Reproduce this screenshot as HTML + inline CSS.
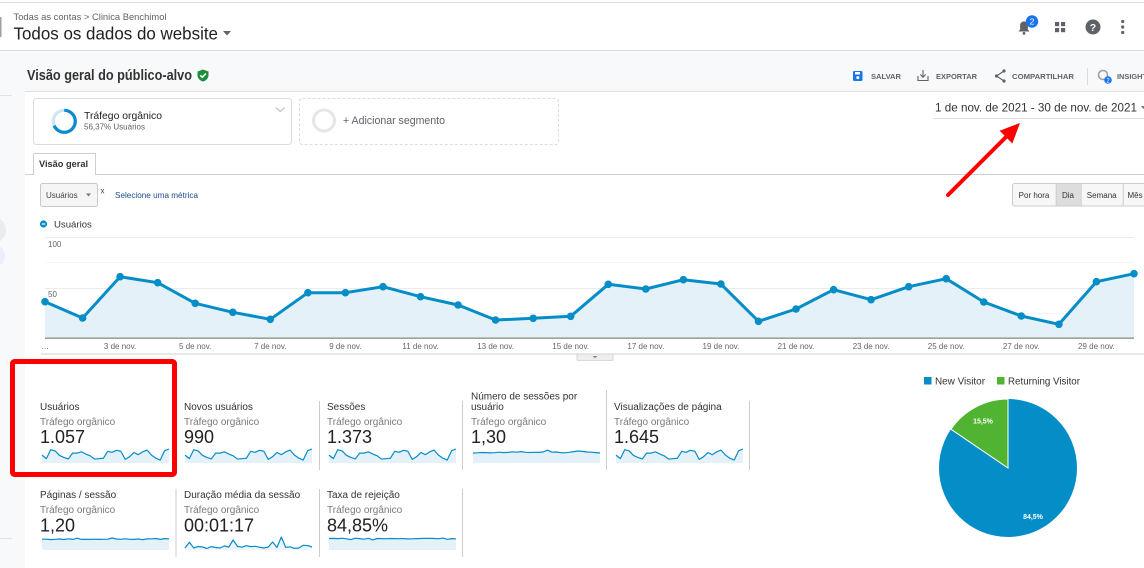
<!DOCTYPE html>
<html><head><meta charset="utf-8">
<style>
html,body{margin:0;padding:0;background:#fff;}
body{width:1144px;height:568px;overflow:hidden;}
svg{display:block;}
text{font-family:"Liberation Sans",Arial,sans-serif;}
</style></head>
<body>
<svg width="1144" height="568" viewBox="0 0 1144 568" xmlns="http://www.w3.org/2000/svg">
<defs>
  <g id="spA">
    <polygon fill="#e4f1f8" points="0,6.1 4.38,9.65 8.76,0.65 13.14,1.96 17.52,6.44 21.9,8.4 26.27,9.93 30.65,4.14 35.03,4.14 39.41,2.83 43.79,5.01 48.17,6.81 52.55,10.08 56.93,9.71 61.31,9.28 65.69,2.31 70.07,3.33 74.45,1.31 78.83,2.24 83.21,10.36 87.59,7.69 91.97,3.48 96.34,5.66 100.72,2.83 105.1,1.09 109.48,6.16 113.86,9.21 118.24,11.02 122.62,1.74 127,0 127,14 0,14"/>
    <polyline fill="none" stroke="#058dc7" stroke-width="1.2" stroke-linejoin="round" points="0,6.1 4.38,9.65 8.76,0.65 13.14,1.96 17.52,6.44 21.9,8.4 26.27,9.93 30.65,4.14 35.03,4.14 39.41,2.83 43.79,5.01 48.17,6.81 52.55,10.08 56.93,9.71 61.31,9.28 65.69,2.31 70.07,3.33 74.45,1.31 78.83,2.24 83.21,10.36 87.59,7.69 91.97,3.48 96.34,5.66 100.72,2.83 105.1,1.09 109.48,6.16 113.86,9.21 118.24,11.02 122.62,1.74 127,0"/>
  </g>
  <g id="spF1">
    <polygon fill="#e4f1f8" points="0,4 4.38,3.8 8.76,3.5 13.14,3.6 17.52,3.9 21.9,3.7 26.27,3.2 30.65,3.6 35.03,3.4 39.41,2.8 43.79,3.2 48.17,2.6 52.55,3.3 56.93,3.5 61.31,3.3 65.69,3.4 70.07,3 74.45,1.2 78.83,3.2 83.21,3 87.59,3.6 91.97,3.8 96.34,3.3 100.72,2.6 105.1,2 109.48,2.4 113.86,3 118.24,3.2 122.62,3.6 127,4 127,14 0,14"/>
    <polyline fill="none" stroke="#058dc7" stroke-width="1.2" stroke-linejoin="round" points="0,4 4.38,3.8 8.76,3.5 13.14,3.6 17.52,3.9 21.9,3.7 26.27,3.2 30.65,3.6 35.03,3.4 39.41,2.8 43.79,3.2 48.17,2.6 52.55,3.3 56.93,3.5 61.31,3.3 65.69,3.4 70.07,3 74.45,1.2 78.83,3.2 83.21,3 87.59,3.6 91.97,3.8 96.34,3.3 100.72,2.6 105.1,2 109.48,2.4 113.86,3 118.24,3.2 122.62,3.6 127,4"/>
  </g>
  <g id="spF2">
    <polygon fill="#e4f1f8" points="0,2.2 4.38,2.2 8.76,2.6 13.14,2.3 17.52,2 21.9,2.5 26.27,1.8 30.65,2.4 35.03,1.2 39.41,2.4 43.79,2.3 48.17,2.4 52.55,2.2 56.93,2.4 61.31,2.3 65.69,2.2 70.07,1 74.45,2 78.83,2.3 83.21,1.8 87.59,2.3 91.97,2.4 96.34,2 100.72,2.7 105.1,1.9 109.48,1.8 113.86,1.5 118.24,2.4 122.62,1.6 127,1.8 127,13 0,13"/>
    <polyline fill="none" stroke="#058dc7" stroke-width="1.2" stroke-linejoin="round" points="0,2.2 4.38,2.2 8.76,2.6 13.14,2.3 17.52,2 21.9,2.5 26.27,1.8 30.65,2.4 35.03,1.2 39.41,2.4 43.79,2.3 48.17,2.4 52.55,2.2 56.93,2.4 61.31,2.3 65.69,2.2 70.07,1 74.45,2 78.83,2.3 83.21,1.8 87.59,2.3 91.97,2.4 96.34,2 100.72,2.7 105.1,1.9 109.48,1.8 113.86,1.5 118.24,2.4 122.62,1.6 127,1.8"/>
  </g>
  <g id="spF3">
    <polygon fill="#e4f1f8" points="0,1.5 4.38,1.4 8.76,1.6 13.14,1.3 17.52,1.8 21.9,2.6 26.27,1.2 30.65,1.6 35.03,2.2 39.41,1.3 43.79,2.9 48.17,1.5 52.55,1.6 56.93,1.8 61.31,1.5 65.69,1.6 70.07,1.7 74.45,1.6 78.83,1.9 83.21,1.8 87.59,1.6 91.97,1.5 96.34,1.4 100.72,1.3 105.1,1.5 109.48,1.7 113.86,1.1 118.24,2.3 122.62,1.6 127,1.8 127,13 0,13"/>
    <polyline fill="none" stroke="#058dc7" stroke-width="1.2" stroke-linejoin="round" points="0,1.5 4.38,1.4 8.76,1.6 13.14,1.3 17.52,1.8 21.9,2.6 26.27,1.2 30.65,1.6 35.03,2.2 39.41,1.3 43.79,2.9 48.17,1.5 52.55,1.6 56.93,1.8 61.31,1.5 65.69,1.6 70.07,1.7 74.45,1.6 78.83,1.9 83.21,1.8 87.59,1.6 91.97,1.5 96.34,1.4 100.72,1.3 105.1,1.5 109.48,1.7 113.86,1.1 118.24,2.3 122.62,1.6 127,1.8"/>
  </g>
  <g id="spD">
    <polygon fill="#eef6fb" points="0,11 4.38,5.3 8.76,11 13.14,9.5 17.52,10 21.9,11.5 26.27,9.6 30.65,10.5 35.03,11 39.41,9 43.79,10 48.17,3 52.55,9.5 56.93,10.2 61.31,8.7 65.69,9.6 70.07,9.3 74.45,10.2 78.83,11 83.21,10 87.59,5 91.97,10.5 96.34,0 100.72,10.4 105.1,9.8 109.48,11.4 113.86,11 118.24,8.3 122.62,8.6 127,10 127,13 0,13"/>
    <polyline fill="none" stroke="#058dc7" stroke-width="1.2" stroke-linejoin="round" points="0,11 4.38,5.3 8.76,11 13.14,9.5 17.52,10 21.9,11.5 26.27,9.6 30.65,10.5 35.03,11 39.41,9 43.79,10 48.17,3 52.55,9.5 56.93,10.2 61.31,8.7 65.69,9.6 70.07,9.3 74.45,10.2 78.83,11 83.21,10 87.59,5 91.97,10.5 96.34,0 100.72,10.4 105.1,9.8 109.48,11.4 113.86,11 118.24,8.3 122.62,8.6 127,10"/>
  </g>
</defs>

<!-- backgrounds -->
<rect x="0" y="0" width="1144" height="568" fill="#fff"/>
<rect x="0" y="2" width="1144" height="1" fill="#dadce0"/>
<rect x="0" y="17" width="1.5" height="20" fill="#9aa0a6"/>
<rect x="0" y="51" width="1144" height="517" fill="#f8f9fa"/>
<rect x="0" y="50" width="1144" height="1" fill="#dadce0"/>
<rect x="25" y="92" width="1119" height="476" fill="#fff"/>
<rect x="25" y="91" width="1119" height="1" fill="#e0e0e0"/>
<rect x="0" y="95" width="12" height="1" fill="#e3e3e3"/>
<rect x="0" y="538" width="12" height="1" fill="#e3e3e3"/>
<circle cx="-7" cy="230" r="13" fill="#ececec"/>
<circle cx="-6" cy="256" r="11" fill="#e8f0fe"/>

<!-- header -->
<text x="13.5" y="20" font-size="9" fill="#5f6368" textLength="153" lengthAdjust="spacingAndGlyphs">Todas as contas &gt; Clinica Benchimol</text>
<text x="13.5" y="39.5" font-size="17.5" fill="#202124" textLength="204.5" lengthAdjust="spacingAndGlyphs">Todos os dados do website</text>
<polygon points="223,31 231,31 227,35.5" fill="#5f6368"/>

<!-- header icons -->
<path d="M1018.5,31.5 h11 l-1.6,-2 v-4.2 a3.9,3.9 0 0 0 -7.8,0 v4.2 z" fill="#5f6368"/>
<circle cx="1024" cy="33.3" r="1.4" fill="#5f6368"/>
<circle cx="1032" cy="21.5" r="6.2" fill="#1a73e8"/>
<text x="1032" y="24.5" font-size="8.5" fill="#fff" text-anchor="middle">2</text>
<rect x="1055" y="22" width="4.2" height="4.2" fill="#5f6368"/>
<rect x="1061" y="22" width="4.2" height="4.2" fill="#5f6368"/>
<rect x="1055" y="28" width="4.2" height="4.2" fill="#5f6368"/>
<rect x="1061" y="28" width="4.2" height="4.2" fill="#5f6368"/>
<circle cx="1093" cy="27" r="7.5" fill="#5f6368"/>
<text x="1093" y="30.8" font-size="10.5" font-weight="bold" fill="#fff" text-anchor="middle">?</text>
<circle cx="1122.7" cy="21.5" r="1.6" fill="#5f6368"/>
<circle cx="1122.7" cy="27" r="1.6" fill="#5f6368"/>
<circle cx="1122.7" cy="32.5" r="1.6" fill="#5f6368"/>

<!-- title band -->
<text x="27" y="80" font-size="14.5" font-weight="bold" fill="#333" textLength="165" lengthAdjust="spacingAndGlyphs">Visão geral do público-alvo</text>
<path d="M203,69.5 l5.5,2 v3.8 c0,3 -2.3,5.3 -5.5,6.3 c-3.2,-1 -5.5,-3.3 -5.5,-6.3 v-3.8 z" fill="#1e8e3e"/>
<path d="M200.3,75.3 l2,2 l3.6,-3.8" fill="none" stroke="#fff" stroke-width="1.5"/>

<!-- toolbar -->
<rect x="853" y="71" width="9.5" height="10" rx="1.2" fill="#1a73e8"/>
<rect x="855" y="72" width="5" height="2.5" fill="#fff"/>
<circle cx="857.8" cy="77.6" r="1.5" fill="#fff"/>
<text x="871" y="79" font-size="7.4" font-weight="bold" fill="#5f6368" textLength="30" lengthAdjust="spacingAndGlyphs">SALVAR</text>
<path d="M918,76 v4.5 h10 v-4.5" fill="none" stroke="#5f6368" stroke-width="1.1"/>
<path d="M923,70 v7 M920.3,74.5 l2.7,2.7 l2.7,-2.7" fill="none" stroke="#5f6368" stroke-width="1.1"/>
<text x="936" y="79" font-size="7.4" font-weight="bold" fill="#5f6368" textLength="41" lengthAdjust="spacingAndGlyphs">EXPORTAR</text>
<path d="M1004,71 L996.5,76 L1004,81" fill="none" stroke="#5f6368" stroke-width="1.1"/>
<circle cx="1004" cy="71" r="1.6" fill="#5f6368"/>
<circle cx="996.5" cy="76" r="1.6" fill="#5f6368"/>
<circle cx="1004" cy="81" r="1.6" fill="#5f6368"/>
<text x="1012" y="79" font-size="7.4" font-weight="bold" fill="#5f6368" textLength="62" lengthAdjust="spacingAndGlyphs">COMPARTILHAR</text>
<rect x="1087" y="68" width="1" height="17" fill="#dadce0"/>
<circle cx="1103" cy="75" r="4.5" fill="none" stroke="#9aa0a6" stroke-width="1.6"/>
<circle cx="1108" cy="80" r="3.8" fill="#1a73e8"/>
<text x="1108" y="82.3" font-size="6" fill="#fff" text-anchor="middle">2</text>
<text x="1117" y="79" font-size="7.4" font-weight="bold" fill="#5f6368">INSIGHTS</text>

<!-- date -->
<text x="935" y="111.3" font-size="12" fill="#333" textLength="202" lengthAdjust="spacingAndGlyphs">1 de nov. de 2021 - 30 de nov. de 2021</text>
<polygon points="1141,106 1146,106 1143.5,109" fill="#777"/>
<rect x="933" y="118" width="211" height="1" fill="#e0e0e0"/>

<!-- segment boxes -->
<rect x="33.5" y="98.5" width="258" height="46" rx="3" fill="#fff" stroke="#dadce0"/>
<circle cx="64.3" cy="121.3" r="11" fill="none" stroke="#cfe6f3" stroke-width="3.2"/>
<path d="M64.3,110.3 A11,11 0 1 1 54.15,125.6" fill="none" stroke="#0a8ad0" stroke-width="3.2"/>
<text x="84" y="119" font-size="10.5" fill="#212121" textLength="78" lengthAdjust="spacingAndGlyphs">Tráfego orgânico</text>
<text x="84" y="129.3" font-size="8" fill="#5f6368" textLength="61" lengthAdjust="spacingAndGlyphs">56,37% Usuários</text>
<path d="M276,107.5 l4.3,4 l4.3,-4" fill="none" stroke="#c4c4c4" stroke-width="1.2"/>
<rect x="299.5" y="98.5" width="259" height="46" rx="3" fill="#fff" stroke="#dadce0" stroke-dasharray="3,2"/>
<circle cx="324" cy="120.5" r="10.5" fill="none" stroke="#e6e6e6" stroke-width="3"/>
<text x="343" y="123.8" font-size="11" fill="#5f6368" textLength="102" lengthAdjust="spacingAndGlyphs">+ Adicionar segmento</text>

<!-- tab -->
<rect x="25" y="174" width="1119" height="1" fill="#cfcfcf"/>
<path d="M33.5,175 V153.5 H95.5 V175" fill="#fff" stroke="#cfcfcf"/>
<text x="39" y="167" font-size="9.2" font-weight="bold" fill="#333" textLength="49" lengthAdjust="spacingAndGlyphs">Visão geral</text>

<!-- metric selector -->
<rect x="40.5" y="183.5" width="57" height="23" rx="2" fill="#f5f5f5" stroke="#c8c8c8"/>
<text x="46" y="198" font-size="8" fill="#444">Usuários</text>
<polygon points="86,193.5 91,193.5 88.5,196.5" fill="#777"/>
<text x="100.5" y="193.5" font-size="8" fill="#444">x</text>
<text x="115" y="198" font-size="8" fill="#1a4a8e" textLength="83" lengthAdjust="spacingAndGlyphs">Selecione uma métrica</text>

<!-- period buttons -->
<rect x="1012.5" y="183.5" width="140" height="22.5" rx="2" fill="#f7f7f7" stroke="#cccccc"/>
<rect x="1056" y="184" width="24.5" height="21.5" fill="#dddddd"/>
<rect x="1055.7" y="183.5" width="1" height="22.5" fill="#cccccc"/>
<rect x="1080.7" y="183.5" width="1" height="22.5" fill="#cccccc"/>
<rect x="1122.7" y="183.5" width="1" height="22.5" fill="#cccccc"/>
<text x="1034" y="198" font-size="8" fill="#333" text-anchor="middle">Por hora</text>
<text x="1068" y="198" font-size="8" fill="#333" text-anchor="middle">Dia</text>
<text x="1101.7" y="198" font-size="8" fill="#333" text-anchor="middle">Semana</text>
<text x="1127.5" y="198" font-size="8" fill="#333">Mês</text>

<!-- chart legend -->
<circle cx="43.5" cy="224" r="3.6" fill="#058dc7"/>
<rect x="41.8" y="223.4" width="3.4" height="1.2" fill="#fff"/>
<text x="54" y="227.5" font-size="9.6" fill="#333">Usuários</text>

<!-- grid -->
<rect x="45" y="237" width="1089" height="1" fill="#ececec"/>
<rect x="45" y="262" width="1089" height="1" fill="#f6f6f6"/>
<rect x="45" y="288" width="1089" height="1" fill="#ececec"/>
<rect x="45" y="313" width="1089" height="1" fill="#f6f6f6"/>
<text x="48" y="247" font-size="8" fill="#666">100</text>
<text x="48" y="297" font-size="8" fill="#666">50</text>

<!-- area + line -->
<polygon fill="#e4f1f8" points="45,338 45,301.7 82.6,318 120.1,276.7 157.7,282.7 195.2,303.3 232.8,312.3 270.3,319.3 307.9,292.7 345.4,292.7 383,286.7 420.5,296.7 458.1,305 495.6,320 533.2,318.3 570.7,316.3 608.3,284.3 645.8,289 683.4,279.7 720.9,284 758.5,321.3 796,309 833.6,289.7 871.1,299.7 908.7,286.7 946.2,278.7 983.8,302 1021.3,316 1058.9,324.3 1096.4,281.7 1134,273.7 1134,338"/>
<polyline fill="none" stroke="#058dc7" stroke-width="3" stroke-linejoin="round" points="45,301.7 82.6,318 120.1,276.7 157.7,282.7 195.2,303.3 232.8,312.3 270.3,319.3 307.9,292.7 345.4,292.7 383,286.7 420.5,296.7 458.1,305 495.6,320 533.2,318.3 570.7,316.3 608.3,284.3 645.8,289 683.4,279.7 720.9,284 758.5,321.3 796,309 833.6,289.7 871.1,299.7 908.7,286.7 946.2,278.7 983.8,302 1021.3,316 1058.9,324.3 1096.4,281.7 1134,273.7"/>
<g fill="#058dc7">
<circle cx="45" cy="301.7" r="3.8"/><circle cx="82.6" cy="318" r="3.8"/><circle cx="120.1" cy="276.7" r="3.8"/><circle cx="157.7" cy="282.7" r="3.8"/><circle cx="195.2" cy="303.3" r="3.8"/><circle cx="232.8" cy="312.3" r="3.8"/><circle cx="270.3" cy="319.3" r="3.8"/><circle cx="307.9" cy="292.7" r="3.8"/><circle cx="345.4" cy="292.7" r="3.8"/><circle cx="383" cy="286.7" r="3.8"/><circle cx="420.5" cy="296.7" r="3.8"/><circle cx="458.1" cy="305" r="3.8"/><circle cx="495.6" cy="320" r="3.8"/><circle cx="533.2" cy="318.3" r="3.8"/><circle cx="570.7" cy="316.3" r="3.8"/><circle cx="608.3" cy="284.3" r="3.8"/><circle cx="645.8" cy="289" r="3.8"/><circle cx="683.4" cy="279.7" r="3.8"/><circle cx="720.9" cy="284" r="3.8"/><circle cx="758.5" cy="321.3" r="3.8"/><circle cx="796" cy="309" r="3.8"/><circle cx="833.6" cy="289.7" r="3.8"/><circle cx="871.1" cy="299.7" r="3.8"/><circle cx="908.7" cy="286.7" r="3.8"/><circle cx="946.2" cy="278.7" r="3.8"/><circle cx="983.8" cy="302" r="3.8"/><circle cx="1021.3" cy="316" r="3.8"/><circle cx="1058.9" cy="324.3" r="3.8"/><circle cx="1096.4" cy="281.7" r="3.8"/><circle cx="1134" cy="273.7" r="3.8"/>
</g>
<rect x="45" y="337.5" width="1089" height="1.3" fill="#8a8a8a"/>

<!-- x labels -->
<g font-size="8" fill="#666" text-anchor="middle">
<text x="45" y="349">…</text>
<text x="120.1" y="349">3 de nov.</text>
<text x="195.2" y="349">5 de nov.</text>
<text x="270.3" y="349">7 de nov.</text>
<text x="345.4" y="349">9 de nov.</text>
<text x="420.5" y="349">11 de nov.</text>
<text x="495.6" y="349">13 de nov.</text>
<text x="570.7" y="349">15 de nov.</text>
<text x="645.8" y="349">17 de nov.</text>
<text x="720.9" y="349">19 de nov.</text>
<text x="796" y="349">21 de nov.</text>
<text x="871.1" y="349">23 de nov.</text>
<text x="946.2" y="349">25 de nov.</text>
<text x="1021.3" y="349">27 de nov.</text>
<text x="1096.4" y="349">29 de nov.</text>
</g>
<rect x="41" y="353.5" width="1103" height="1" fill="#d0d0d0"/>
<rect x="577" y="354" width="36" height="6.5" rx="1" fill="#eeeeee" stroke="#d0d0d0" stroke-width="0.8"/>
<polygon points="592.5,356 597.5,356 595,358.2" fill="#888"/>

<!-- metric tiles row 1 -->
<g font-size="10" fill="#333">
<text x="40" y="410.2">Usuários</text>
<text x="184" y="410.2">Novos usuários</text>
<text x="327" y="410.2">Sessões</text>
<text x="471" y="399.5">Número de sessões por</text>
<text x="471" y="410.2">usuário</text>
<text x="614" y="410.2">Visualizações de página</text>
<text x="40" y="497.8">Páginas / sessão</text>
<text x="184" y="497.8">Duração média da sessão</text>
<text x="327" y="497.8">Taxa de rejeição</text>
</g>
<g font-size="10" fill="#7a7a7a">
<text x="40" y="425.2">Tráfego orgânico</text>
<text x="184" y="425.2">Tráfego orgânico</text>
<text x="327" y="425.2">Tráfego orgânico</text>
<text x="471" y="425.2">Tráfego orgânico</text>
<text x="614" y="425.2">Tráfego orgânico</text>
<text x="40" y="513.2">Tráfego orgânico</text>
<text x="184" y="513.2">Tráfego orgânico</text>
<text x="327" y="513.2">Tráfego orgânico</text>
</g>
<g font-size="18" fill="#222">
<text x="40" y="443">1.057</text>
<text x="184" y="443">990</text>
<text x="327" y="443">1.373</text>
<text x="471" y="443">1,30</text>
<text x="614" y="443">1.645</text>
<text x="40" y="531.5">1,20</text>
<text x="184" y="531.5">00:01:17</text>
<text x="327" y="531.5">84,85%</text>
</g>
<use href="#spA" x="42" y="449"/>
<use href="#spA" x="185" y="449"/>
<use href="#spA" x="329" y="449"/>
<use href="#spF1" x="473" y="449"/>
<use href="#spA" x="616" y="449"/>
<use href="#spF2" x="42" y="537"/>
<use href="#spD" x="185" y="537"/>
<use href="#spF3" x="329" y="537"/>

<g fill="#cccccc">
<rect x="319" y="401" width="1" height="69"/>
<rect x="462" y="401" width="1" height="69"/>
<rect x="606" y="390" width="1" height="80"/>
<rect x="749" y="401" width="1" height="69"/>
<rect x="175.5" y="489" width="1" height="68"/>
<rect x="319" y="489" width="1" height="68"/>
<rect x="462" y="489" width="1" height="68"/>
</g>

<!-- pie -->
<rect x="924" y="377" width="7.5" height="7.5" fill="#058dc7"/>
<text x="935" y="384.5" font-size="10" fill="#333" textLength="50" lengthAdjust="spacingAndGlyphs">New Visitor</text>
<rect x="997" y="377" width="7.5" height="7.5" fill="#50b432"/>
<text x="1008" y="384.5" font-size="10" fill="#333" textLength="72" lengthAdjust="spacingAndGlyphs">Returning Visitor</text>
<circle cx="1008" cy="468" r="69" fill="#058dc7"/>
<path d="M1008,468 L1008,399 A69,69 0 0 0 950.93,429.21 Z" fill="#50b432" stroke="#fff" stroke-width="1"/>
<text x="983" y="423.5" font-size="7" font-weight="bold" fill="#fff" text-anchor="middle">15,5%</text>
<text x="1033" y="519" font-size="7" font-weight="bold" fill="#fff" text-anchor="middle">84,5%</text>

<!-- red annotations -->
<rect x="12.5" y="361.5" width="162" height="113" rx="2" fill="none" stroke="#ff0000" stroke-width="5"/>
<line x1="948" y1="195" x2="1007" y2="136" stroke="#ff0000" stroke-width="4" stroke-linecap="round"/>
<polygon points="1020,123 999.6,130.7 1012.3,143.5" fill="#ff0000"/>
</svg>
</body></html>
